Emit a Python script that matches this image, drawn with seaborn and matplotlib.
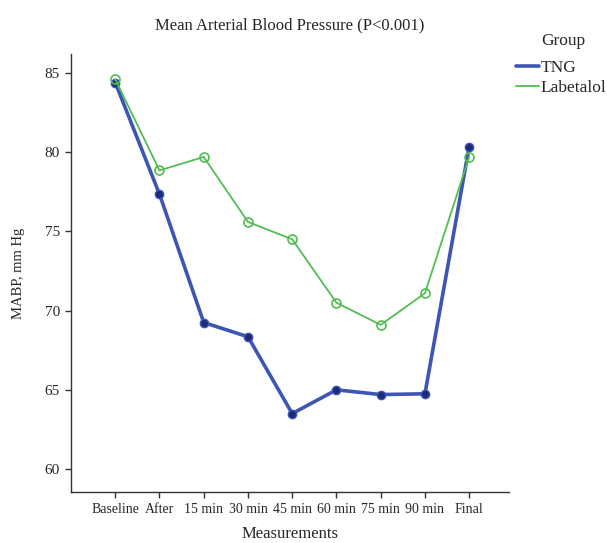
import matplotlib
matplotlib.use("Agg")
import matplotlib.pyplot as plt
from matplotlib.lines import Line2D
import seaborn as sns
import pandas as pd

categories = ["Baseline", "After", "15 min", "30 min", "45 min", "60 min", "75 min", "90 min", "Final"]
tng = [84.4, 77.35, 69.25, 68.35, 63.5, 65.0, 64.7, 64.75, 80.35]
labetalol = [84.6, 78.85, 79.7, 75.6, 74.5, 70.5, 69.1, 71.1, 79.7]
groups = ["TNG", "Labetalol"]
yticks = [60, 65, 70, 75, 80, 85]

sns.set_theme(style="ticks")
plt.rcParams["font.family"] = ["Liberation Serif", "DejaVu Serif"]

df = pd.DataFrame({
    "Measurements": list(range(len(categories))) * 2,
    "MABP": tng + labetalol,
    "Group": ["TNG"] * len(tng) + ["Labetalol"] * len(labetalol),
})

W, H = 607, 543
fig = plt.figure(figsize=(W / 100, H / 100), dpi=100)
ax = fig.add_axes([71 / W, 1 - 492 / H, 438 / W, 438 / H])

blue = "#3d55b3"
navy = "#1c2a78"
green = "#52bd52"

sns.lineplot(data=df[df.Group == "TNG"], x="Measurements", y="MABP", ax=ax,
             color=blue, linewidth=2.6, marker="o", markersize=6,
             markerfacecolor=navy, markeredgecolor=blue, markeredgewidth=1.0,
             legend=False)
sns.lineplot(data=df[df.Group == "Labetalol"], x="Measurements", y="MABP", ax=ax,
             color=green, linewidth=1.3, marker="o", markersize=6.5,
             markerfacecolor="none", markeredgecolor=green, markeredgewidth=1.2,
             legend=False)

ax.set_xlim(-1, 8.9)
ax.set_ylim(58.55, 86.2)
ax.set_xticks(range(len(categories)))
ax.set_xticklabels(categories, fontsize=10)
ax.set_yticks(yticks)
ax.set_yticklabels([str(v) for v in yticks], fontsize=11)
ax.tick_params(axis="both", length=4, width=1, color="#333333", pad=4)
ax.set_xlabel("Measurements", fontsize=12, labelpad=7)
ax.set_ylabel("MABP, mm Hg", fontsize=10.5, labelpad=14)
ax.set_title("Mean Arterial Blood Pressure (P<0.001)", fontsize=12, pad=18)
for s in ["top", "right"]:
    ax.spines[s].set_visible(False)
for s in ["left", "bottom"]:
    ax.spines[s].set_color("#333333")
    ax.spines[s].set_linewidth(1.0)

handles = [Line2D([0], [0], color=blue, linewidth=2.6),
           Line2D([0], [0], color=green, linewidth=1.3)]
fig.text(541 / W, 1 - 41 / H, "Group", fontsize=12.5, ha="left", va="center")
fig.legend(handles, groups, loc="upper left",
           bbox_to_anchor=(516 / W, 1 - 60 / H), frameon=False, fontsize=12.5,
           handlelength=1.3, handletextpad=0.1, labelspacing=0.2,
           borderpad=0, borderaxespad=0)

fig.savefig("out.png", dpi=100)
